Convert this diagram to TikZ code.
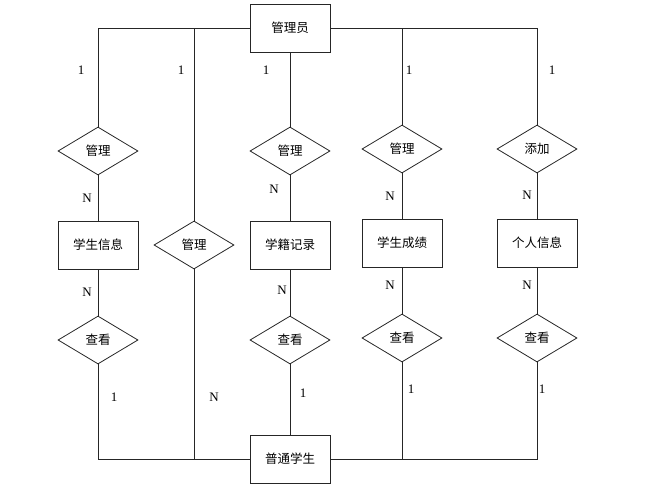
\documentclass[tikz,border=0pt]{standalone}
\usepackage{fontspec}
\setmainfont{Liberation Serif}
\newfontfamily\cjk{Noto Sans CJK SC}
\usetikzlibrary{shapes.geometric}
\begin{document}
\begin{tikzpicture}[x=1pt,y=-1pt,
  ent/.style={draw=black!85,line width=0.8pt,rectangle,minimum width=80pt,minimum height=48pt,inner sep=0pt,font=\cjk\fontsize{12.5}{14}\selectfont},
  rel/.style={draw=black!85,line width=0.8pt,diamond,minimum width=80pt,minimum height=48pt,inner sep=0pt,font=\cjk\fontsize{12.5}{14}\selectfont},
  con/.style={draw=black!85,line width=0.8pt},
  card/.style={font=\fontsize{13}{14}\selectfont,inner sep=0pt}]
\useasboundingbox (0,0) rectangle (659,493);
% entities
\node[ent] (admin) at (290,28) {管理员};
\node[ent] (stu) at (290,459) {普通学生};
\node[ent] (e1) at (98,245) {学生信息};
\node[ent] (e3) at (290,245) {学籍记录};
\node[ent] (e4) at (402,243) {学生成绩};
\node[ent] (e5) at (537,243) {个人信息};
% relations
\node[rel] (r1) at (98,151) {管理};
\node[rel] (r2) at (194,245) {管理};
\node[rel] (r3) at (290,151) {管理};
\node[rel] (r4) at (402,149) {管理};
\node[rel] (r5) at (537,149) {添加};
\node[rel] (v1) at (98,340) {查看};
\node[rel] (v3) at (290,340) {查看};
\node[rel] (v4) at (402,338) {查看};
\node[rel] (v5) at (537,338) {查看};
% connectors
\draw[con] (admin.west) -| (r1.north);
\draw[con] (admin.west) -| (r2.north);
\draw[con] (admin.south) -- (r3.north);
\draw[con] (admin.east) -| (r4.north);
\draw[con] (admin.east) -| (r5.north);
\draw[con] (r1.south) -- (e1.north);
\draw[con] (r3.south) -- (e3.north);
\draw[con] (r4.south) -- (e4.north);
\draw[con] (r5.south) -- (e5.north);
\draw[con] (e1.south) -- (v1.north);
\draw[con] (e3.south) -- (v3.north);
\draw[con] (e4.south) -- (v4.north);
\draw[con] (e5.south) -- (v5.north);
\draw[con] (v1.south) |- (stu.west);
\draw[con] (r2.south) |- (stu.west);
\draw[con] (v3.south) -- (stu.north);
\draw[con] (v4.south) |- (stu.east);
\draw[con] (v5.south) |- (stu.east);
% cardinalities
\node[card] (c1) at (81,70) {1};
\node[card] (c2) at (181,70) {1};
\node[card] (c3) at (266,70) {1};
\node[card] (c4) at (409,70) {1};
\node[card] (c5) at (552,70) {1};
\node[card] (n1) at (87,198) {N};
\node[card] (n3) at (274,189) {N};
\node[card] (n4) at (390,196) {N};
\node[card] (n5) at (527,195) {N};
\node[card] (m1) at (87,292) {N};
\node[card] (m3) at (282,290) {N};
\node[card] (m4) at (390,285) {N};
\node[card] (m5) at (527,285) {N};
\node[card] (b1) at (114,397) {1};
\node[card] (b2) at (214,397) {N};
\node[card] (b3) at (303,393) {1};
\node[card] (b4) at (411,389) {1};
\node[card] (b5) at (542,389) {1};
\end{tikzpicture}
\end{document}
